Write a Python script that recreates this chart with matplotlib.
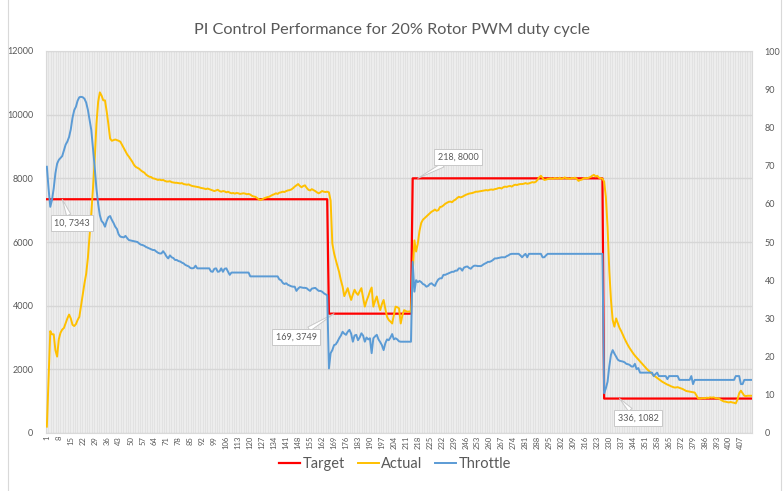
import numpy as np
import matplotlib
matplotlib.use("Agg")
import matplotlib.pyplot as plt
from matplotlib.lines import Line2D

plt.rcParams['font.family'] = ['Lato', 'DejaVu Sans']

title = "PI Control Performance for 20% Rotor PWM duty cycle"

target_levels = [7343, 3749, 8000, 1082]
target_lengths = [165, 49, 112, 87]

actual = [
    200, 1700, 3200, 3100, 3100, 2600, 2400, 2950, 3150, 3250,
    3300, 3450, 3600, 3720, 3600, 3400, 3360, 3420, 3550, 3650,
    4000, 4350, 4700, 5000, 5500, 6200, 6900, 7700, 8600, 9700,
    10400, 10700, 10600, 10450, 10450, 10100, 9700, 9250, 9180, 9200,
    9220, 9200, 9180, 9150, 9050, 8950, 8850, 8750, 8680, 8600,
    8520, 8420, 8360, 8330, 8300, 8250, 8210, 8180, 8120, 8080,
    8050, 8040, 8000, 7990, 7970, 7950, 7960, 7940, 7950, 7920,
    7900, 7900, 7910, 7880, 7870, 7860, 7860, 7850, 7840, 7850,
    7820, 7810, 7800, 7810, 7780, 7760, 7750, 7740, 7730, 7720,
    7700, 7690, 7680, 7660, 7680, 7660, 7640, 7620, 7600, 7620,
    7640, 7600, 7580, 7600, 7590, 7560, 7580, 7550, 7530, 7540,
    7520, 7540, 7530, 7510, 7520, 7530, 7520, 7500, 7510, 7490,
    7450, 7430, 7420, 7380, 7340, 7320, 7340, 7370, 7390, 7410,
    7420, 7450, 7480, 7500, 7530, 7510, 7550, 7560, 7580, 7570,
    7600, 7620, 7630, 7650, 7690, 7740, 7780, 7820, 7760, 7720,
    7760, 7780, 7700, 7640, 7620, 7660, 7630, 7600, 7560, 7530,
    7560, 7600, 7580, 7570, 7580, 7560, 7300, 5950, 5650, 5440,
    5250, 5050, 4800, 4600, 4300, 4420, 4550, 4350, 4180, 4350,
    4500, 4400, 4340, 4450, 4550, 4250, 3970, 4150, 4290, 4450,
    4570, 3970, 4150, 4290, 4050, 3860, 4050, 4180, 3900, 3650,
    3550, 3500, 3440, 3700, 3970, 3950, 3920, 3440, 3700, 3860,
    3830, 3810, 3820, 3810, 5000, 6050, 5700, 5950, 6350, 6600,
    6700, 6750, 6800, 6850, 6900, 6950, 6980, 7020, 6980, 7000,
    7100, 7110, 7150, 7200, 7230, 7260, 7270, 7250, 7300, 7330,
    7380, 7420, 7400, 7420, 7450, 7480, 7500, 7520, 7530, 7540,
    7560, 7580, 7580, 7590, 7600, 7610, 7620, 7630, 7620, 7640,
    7650, 7640, 7660, 7670, 7690, 7700, 7680, 7720, 7740, 7730,
    7750, 7760, 7740, 7780, 7800, 7790, 7810, 7820, 7820, 7830,
    7850, 7830, 7840, 7860, 7880, 7870, 7890, 7950, 8030, 8080,
    8010, 7950, 7960, 7980, 7990, 8000, 7980, 8010, 8000, 7990,
    8020, 7980, 8000, 8030, 7990, 8000, 7980, 8010, 8000, 8020,
    7980, 7920, 7950, 7960, 8000, 8010, 8000, 8020, 8040, 8080,
    8110, 8060, 8080, 8020, 8000, 7990, 7900, 7420, 6480, 5120,
    4180, 3550, 3340, 3600, 3450, 3300, 3200, 3080, 2960, 2850,
    2750, 2660, 2580, 2500, 2430, 2370, 2310, 2250, 2190, 2130,
    2070, 2010, 1960, 1910, 1860, 1810, 1770, 1730, 1690, 1650,
    1610, 1580, 1550, 1520, 1500, 1470, 1450, 1430, 1430, 1440,
    1420, 1400, 1380, 1350, 1320, 1310, 1300, 1290, 1280, 1270,
    1180, 1090, 1080, 1090, 1100, 1090, 1110, 1100, 1120, 1110,
    1120, 1100, 1090, 1090, 1050, 1020, 990, 985, 970, 960,
    975, 960, 950, 930, 1050, 1250, 1330, 1250, 1170, 1160,
    1170, 1170, 1170,
]

throttle = [
    69.7, 64, 59.2, 61, 64, 68, 70.5, 71.5, 72, 72.5,
    74, 75.5, 76.3, 77.5, 79.5, 82.5, 84.5, 85.4, 87, 87.9,
    88, 87.9, 87.5, 86.5, 84.6, 82, 79.3, 74.5, 69.5, 64,
    60, 57, 55.5, 55, 54, 55.5, 56.5, 56.8, 55.8, 55,
    54, 53.4, 52, 51.4, 51.3, 51.2, 51.6, 51, 50.5, 50.4,
    50.3, 50.2, 50.1, 50, 49.6, 49.3, 49.2, 49, 48.7, 48.5,
    48.3, 48.1, 47.9, 47.9, 47.5, 47.2, 47, 47, 47.6, 47,
    46.2, 45.7, 46.5, 46, 45.8, 45.3, 45.3, 45, 44.9, 44.6,
    44.4, 44, 43.8, 43.6, 43.2, 43.1, 43.2, 43.8, 43.1, 43.1,
    43.1, 43.1, 43.1, 43.1, 43.1, 43.1, 42.3, 42.2, 43, 43.1,
    42.2, 42.3, 43.1, 42.2, 43, 43.1, 42.2, 41.4, 42, 42,
    42, 42, 42, 42, 42, 42, 42, 42, 42, 41,
    41, 41, 41, 41, 41, 41, 41, 41, 41, 41,
    41, 41, 41, 41, 41, 41, 40.2, 40, 39.3, 39,
    39.2, 38.8, 38.6, 38.4, 38.3, 38.3, 37.2, 37.8, 38.2, 38.1,
    38, 38, 37.9, 37.5, 37.2, 37.8, 37.9, 38, 37.6, 37.2,
    37.2, 37, 36.6, 36.3, 36.1, 16.9, 20.9, 21.7, 23, 23.2,
    23.9, 24.8, 25.5, 26.5, 26, 25.7, 26.5, 27, 26, 23.9,
    25.5, 25.7, 24.3, 25, 26.1, 25.5, 23.9, 25, 24.5, 24.8,
    20.9, 24.8, 25.3, 25.7, 24.5, 23.8, 23, 21.7, 23.5, 24.5,
    24.3, 25, 25.9, 24.5, 24.8, 24.5, 24, 23.9, 23.9, 23.9,
    23.9, 23.9, 23.9, 23.9, 44.8, 37, 40, 39.5, 39.8, 39.5,
    39, 38.8, 38.3, 38.5, 39, 39.2, 38.8, 38.5, 39.5, 40.2,
    40.5, 40.5, 41.4, 41.4, 41.6, 41.8, 42, 42.2, 42.2, 42.5,
    42.5, 43.1, 43.1, 42.5, 43.3, 43.5, 43.6, 43.2, 43, 43.5,
    43.8, 43.8, 43.7, 43.7, 43.7, 44, 44.3, 44.5, 44.8, 44.8,
    45, 45.3, 45.7, 45.7, 45.8, 45.9, 46, 46, 46, 46.3,
    46.5, 46.8, 46.9, 46.9, 46.9, 46.9, 46.9, 46.5, 46, 46.5,
    46.9, 46, 46.9, 46.9, 46.9, 46.9, 46.9, 46.9, 46.9, 46.9,
    46, 46, 46.5, 46.9, 46.9, 46.9, 46.9, 46.9, 46.9, 46.9,
    46.9, 46.9, 46.9, 46.9, 46.9, 46.9, 46.9, 46.9, 46.9, 46.9,
    46.9, 46.9, 46.9, 46.9, 46.9, 46.9, 46.9, 46.9, 46.9, 46.9,
    46.9, 46.9, 46.9, 46.9, 46.9, 46.9, 10.4, 11.7, 13.4, 17.4,
    20.5, 21.7, 20.8, 20, 19.2, 18.9, 18.8, 18.7, 18.5, 18.1,
    18, 17.8, 17.4, 17.4, 18.1, 16.7, 17, 15.8, 15.8, 15.8,
    15.8, 15.8, 15.8, 15.8, 15.8, 14.9, 15.4, 15.8, 14.9, 14.9,
    14.9, 14.9, 14.9, 14.1, 14.9, 14.9, 14.9, 14.9, 14.9, 14.9,
    13.9, 13.9, 13.9, 13.9, 13.9, 13.9, 13.9, 14.9, 12.8, 13.9,
    13.9, 13.9, 13.9, 13.9, 13.9, 13.9, 13.9, 13.9, 13.9, 13.9,
    13.9, 13.9, 13.9, 13.9, 13.9, 13.9, 13.9, 13.9, 13.9, 13.9,
    13.9, 13.9, 13.9, 14.9, 14.9, 14.9, 12.8, 12.8, 13.9, 13.9,
    13.9, 13.9, 13.9,
]

annotations = [(10, 7343), (169, 3749), (218, 8000), (336, 1082)]
annot_text_px = [(72, 268), (296, 154), (458, 334), (638, 73)]

n_cat = sum(target_lengths)
target = np.repeat(target_levels, target_lengths)

x_t = np.arange(1, len(target) + 1)
x_a = np.arange(1, len(actual) + 1)
x_th = np.arange(1, len(throttle) + 1)

TXT = '#595959'
fig = plt.figure(figsize=(7.83, 4.91), dpi=100)
ax = fig.add_axes([46 / 783, 1 - 433 / 491, (752 - 46) / 783, (433 - 51) / 491])
ax.set_facecolor('#e2e2e2')

ax.set_xlim(0.5, n_cat + 0.5)
ax.set_ylim(0, 12000)
ax.set_yticks(np.arange(0, 12001, 2000))
ax.set_xticks(np.arange(1, n_cat + 1, 7))
ax.set_xticks(np.arange(1, n_cat + 1), minor=True)
ax.grid(which='minor', axis='x', color='#f2f2f2', lw=0.5)
ax.grid(which='major', axis='x', color='#f2f2f2', lw=0.5)
ax.grid(which='major', axis='y', color='#d6d6d6', lw=1.0)
ax.set_axisbelow(True)
ax.tick_params(axis='x', which='both', length=0, labelsize=5.5, labelcolor=TXT,
               labelrotation=90, pad=2)
ax.tick_params(axis='y', length=0, labelsize=6.5, labelcolor=TXT, pad=9)
for s in ax.spines.values():
    s.set_color('#d9d9d9')
    s.set_linewidth(0.8)

l1, = ax.plot(x_t, target, color='#FF0000', lw=1.6, label='Target', zorder=3)
l2, = ax.plot(x_a, actual, color='#FFC000', lw=1.4, label='Actual', zorder=3)

ax2 = ax.twinx()
ax2.set_ylim(0, 100)
ax2.set_yticks(np.arange(0, 101, 10))
ax2.tick_params(axis='y', length=0, labelsize=6.5, labelcolor=TXT, pad=9)
for s in ax2.spines.values():
    s.set_visible(False)
l3, = ax2.plot(x_th, throttle, color='#5B9BD5', lw=1.4, label='Throttle', zorder=3)

for (xi, yi), (tx, ty) in zip(annotations, annot_text_px):
    ax.annotate(f"{xi}, {yi}", xy=(xi, yi), xycoords='data',
                xytext=(tx, ty), textcoords='figure pixels',
                ha='center', va='center', fontsize=6.5, color=TXT,
                bbox=dict(boxstyle='square,pad=0.35', fc='white', ec='#c8c8c8', lw=0.7),
                arrowprops=dict(arrowstyle='wedge,tail_width=0.5,shrink_factor=0.5',
                                fc='white', ec='#c8c8c8', lw=0.7, shrinkA=0, shrinkB=0),
                zorder=10, annotation_clip=False)

fig.text(0.5, 1 - 30 / 491, title, ha='center', va='center', fontsize=11.7, color=TXT)

leg = fig.legend([l1, l2, l3], ['Target', 'Actual', 'Throttle'], loc='center',
                 bbox_to_anchor=(395 / 783, 1 - 464 / 491), ncol=3, frameon=False,
                 fontsize=10.5, handlelength=1.45, columnspacing=0.9, handletextpad=0.15)
for t in leg.get_texts():
    t.set_color(TXT)

fig.add_artist(Line2D([8 / 783, 8 / 783], [0, 1], color='#d9d9d9', lw=0.8))
fig.add_artist(Line2D([781 / 783, 781 / 783], [0, 1], color='#d9d9d9', lw=0.8))

fig.savefig('out.png', dpi=100)
